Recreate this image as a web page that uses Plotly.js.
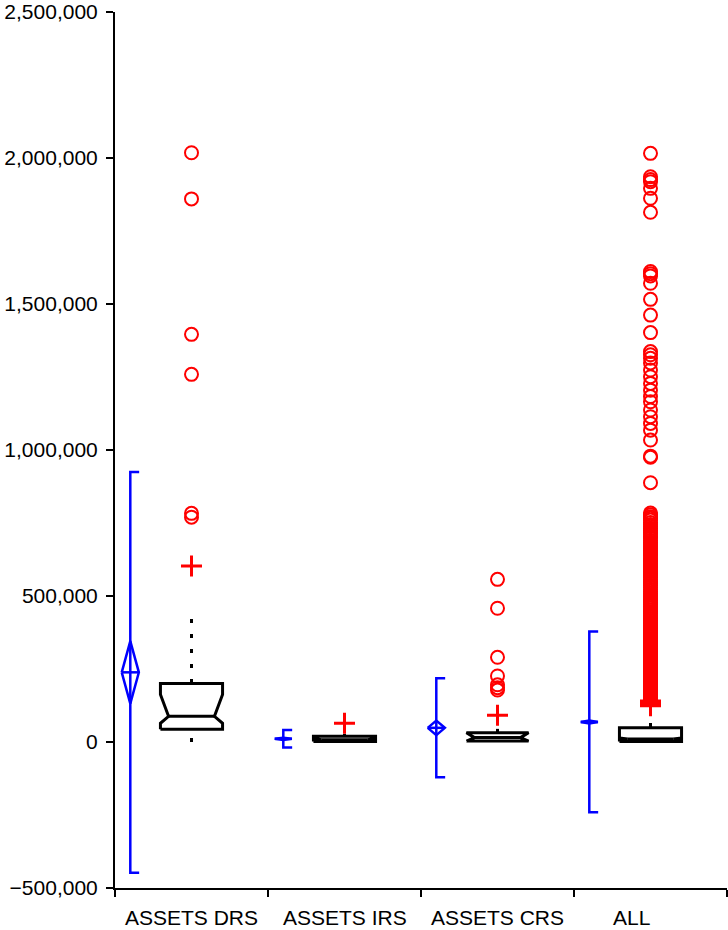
<!DOCTYPE html>
<html>
<head>
<meta charset="utf-8">
<script src="https://cdn.plot.ly/plotly-3.0.1.min.js"></script>
<style>html,body{margin:0;padding:0;background:#fff;}#chart{width:728px;height:930px;}</style>
</head>
<body>
<div id="chart"></div>
<script>
// ---- data ----
const categories = ['ASSETS DRS', 'ASSETS IRS', 'ASSETS CRS', 'ALL'];
// mean / standard deviation / half-width of the mean's confidence interval
const means  = [238600, 10800, 48500, 68600];
const sds    = [686000, 30000, 169500, 309400];
const ciHalf = [107000, 4000, 25000, 5000];
// notched box statistics
const whiskLo = [0, 0, 0, 0];
const q1      = [43500, 1500, 3000, 1500];
const notchLo = [64000, 4000, 3000, 6000];
const median  = [88000, 8000, 15000, 10000];
const notchHi = [163000, 12000, 32000, 14000];
const q3      = [200000, 20000, 32000, 49000];
const whiskHi = [421000, 28000, 45000, 65000];
// mild outliers (+)
const mildOut = [
  [603000],
  [64000],
  [92000],
  [124000, 132000, 140000]
];
// extreme outliers (o)
const farOut = [
  [2018000, 1860000, 1396000, 1259000, 783000, 770000],
  [],
  [557000, 458000, 290000, 226000, 196000, 186000, 178000],
  [2016000, 1936000, 1926000, 1919000, 1896000, 1862000, 1814000, 1611000, 1604000, 1596000,
   1571000, 1516000, 1462000, 1402000, 1337000, 1326000, 1314000, 1298000, 1274000, 1251000,
   1228000, 1205000, 1183000, 1165000, 1137000, 1114000, 1091000, 1068000, 1034000, 979000,
   975000, 888000,
   784000, 778000, 771000, 766000, 760000, 752000, 745000, 739000, 731000, 724000, 718000,
   712000, 705000, 699000, 691000, 684000, 678000, 671000, 664000, 657000, 651000, 644000,
   638000, 630000, 623000, 617000, 610000, 603000, 597000, 590000, 583000, 576000, 570000,
   563000, 556000, 549000, 543000, 536000, 530000, 523000, 516000, 509000, 503000, 497000,
   490000, 484000, 477000, 471000, 465000, 459000, 452000, 446000, 440000, 434000, 428000,
   422000, 416000, 410000, 404000, 398000, 393000, 387000, 381000, 376000, 370000, 364000,
   359000, 353000, 348000, 342000, 337000, 331000, 326000, 320000, 315000, 310000, 305000,
   300000, 295000, 290000, 285000, 280000, 275000, 270000, 265000, 261000, 256000, 251000,
   247000, 242000, 238000, 233000, 229000, 224000, 220000, 216000, 211000, 207000, 203000,
   199000, 195000, 191000, 187000, 183000, 179000, 175000, 172000, 168000, 165000, 161000,
   158000, 154000, 151000, 148000, 145000]
];
const yTicks = [-500000, 0, 500000, 1000000, 1500000, 2000000, 2500000];

// ---- layout constants (positions within each category slot) ----
const BOX_HW = 0.203, NOTCH_HW = 0.15, MEAN_OFF = -0.4, DIA_HW = 0.056, CAP = 0.058;
const BLUE = 'rgb(0,0,255)', RED = 'rgb(255,0,0)';

const traces = [];
categories.forEach((c, i) => {
  const cx = i + 1;
  const mx = cx + MEAN_OFF;
  // mean +/- sd bracket
  traces.push({
    x: [mx + CAP, mx, mx, mx + CAP],
    y: [means[i] + sds[i], means[i] + sds[i], means[i] - sds[i], means[i] - sds[i]],
    mode: 'lines', line: {color: BLUE, width: 2.5}, hoverinfo: 'skip'
  });
  // mean diamond (confidence interval)
  traces.push({
    x: [mx - DIA_HW, mx, mx + DIA_HW, mx, mx - DIA_HW, null, mx - DIA_HW, mx + DIA_HW],
    y: [means[i], means[i] + ciHalf[i], means[i], means[i] - ciHalf[i], means[i], null, means[i], means[i]],
    mode: 'lines', line: {color: BLUE, width: 2.5}, hoverinfo: 'skip'
  });
  // whiskers (dotted), drawn from the whisker ends toward the box
  traces.push({
    x: [cx, cx, null, cx, cx],
    y: [whiskHi[i], q3[i], null, whiskLo[i], q1[i]],
    mode: 'lines', line: {color: 'black', width: 3, dash: '4px,11px'}, hoverinfo: 'skip'
  });
  // notched box
  traces.push({
    x: [cx - BOX_HW, cx - BOX_HW, cx - NOTCH_HW, cx - BOX_HW, cx - BOX_HW,
        cx + BOX_HW, cx + BOX_HW, cx + NOTCH_HW, cx + BOX_HW, cx + BOX_HW, cx - BOX_HW],
    y: [q1[i], notchLo[i], median[i], notchHi[i], q3[i],
        q3[i], notchHi[i], median[i], notchLo[i], q1[i], q1[i]],
    mode: 'lines', fill: 'toself', fillcolor: 'white',
    line: {color: 'black', width: 3}, hoverinfo: 'skip'
  });
  // median line
  traces.push({
    x: [cx - NOTCH_HW, cx + NOTCH_HW], y: [median[i], median[i]],
    mode: 'lines', line: {color: 'black', width: 3}, hoverinfo: 'skip'
  });
  // mild outliers
  if (mildOut[i].length) traces.push({
    x: mildOut[i].map(() => cx), y: mildOut[i], mode: 'markers',
    marker: {symbol: 'cross-thin-open', size: 15, color: RED, line: {color: RED, width: 3}}, hoverinfo: 'skip'
  });
  // extreme outliers
  if (farOut[i].length) traces.push({
    x: farOut[i].map(() => cx), y: farOut[i], mode: 'markers',
    marker: {symbol: 'circle-open', size: 13, color: RED, line: {color: RED, width: 2}}, hoverinfo: 'skip'
  });
});

const FONT = {family: 'Liberation Sans, Arial, sans-serif', size: 21, color: 'black'};
const annotations = categories.map((c, i) => ({
  x: i + 1, y: 0, xref: 'x', yref: 'paper', yanchor: 'top', yshift: -16,
  xshift: c === 'ALL' ? -19 : 0,
  text: c, showarrow: false, font: FONT
}));

const layout = {
  width: 728, height: 930,
  margin: {l: 115, r: 1, t: 12, b: 42},
  paper_bgcolor: 'white', plot_bgcolor: 'white',
  showlegend: false,
  xaxis: {
    range: [0.5, 4.5], tickvals: [0.5, 1.5, 2.5, 3.5, 4.5], ticktext: ['', '', '', '', ''],
    ticks: 'outside', ticklen: 7, tickwidth: 2, tickcolor: 'black',
    showline: true, linecolor: 'black', linewidth: 2, showgrid: false, zeroline: false,
    fixedrange: true
  },
  yaxis: {
    range: [-500000, 2500000], tickvals: yTicks, tickformat: ',',
    ticks: 'outside', ticklen: 7, tickwidth: 2, tickcolor: 'black', ticklabelstandoff: 4,
    showline: true, linecolor: 'black', linewidth: 2, showgrid: false, zeroline: false,
    tickfont: FONT, fixedrange: true
  },
  annotations: annotations
};

Plotly.newPlot('chart', traces, layout, {staticPlot: true});
</script>
</body>
</html>
